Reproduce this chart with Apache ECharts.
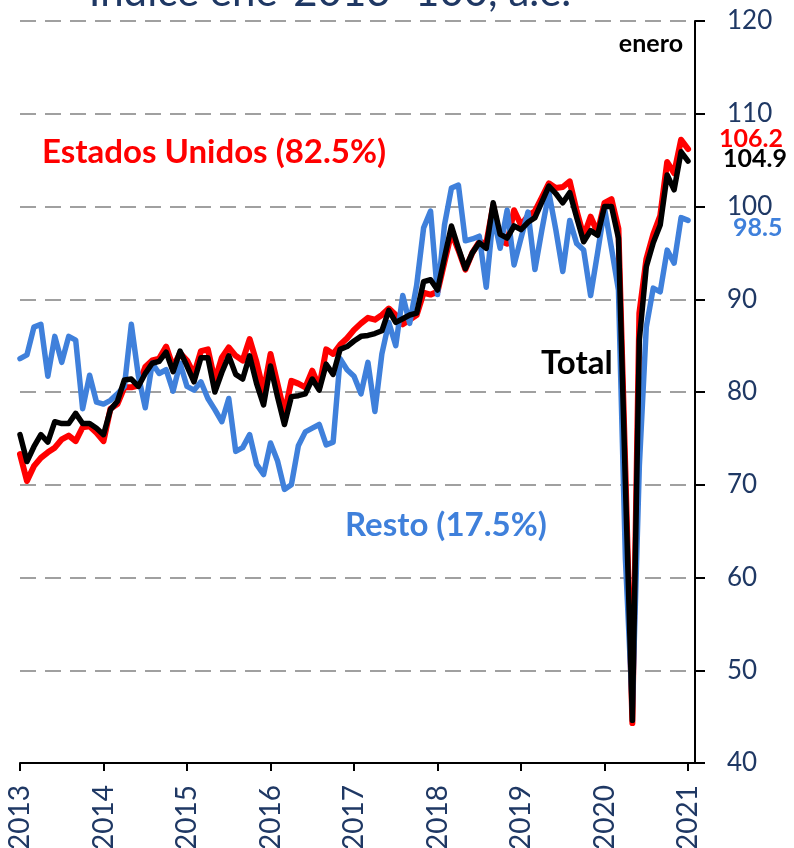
<!DOCTYPE html>
<html>
<head>
<meta charset="utf-8">
<script src="https://cdn.jsdelivr.net/npm/echarts@6/dist/echarts.min.js"></script>
<style>
  html, body { margin: 0; padding: 0; background: #fff; }
  #chart { width: 794px; height: 848px; }
</style>
</head>
<body>
<div id="chart"></div>
<script>
// años del eje x (una etiqueta cada enero)
var years = ['2013', '2014', '2015', '2016', '2017', '2018', '2019', '2020', '2021'];

// índice ene-2013=100, a.e., mensual ene-2013 a ene-2021
var estadosUnidos = [
    73.3, 70.4, 72.0, 72.9, 73.5, 74.0, 74.9, 75.3, 74.7, 76.2, 76.3, 75.6,
    74.7, 78.2, 78.7, 80.5, 80.5, 80.7, 82.7, 83.4, 83.6, 84.9, 82.7, 84.2,
    83.4, 81.9, 84.4, 84.6, 81.2, 83.7, 84.8, 83.9, 83.4, 85.7, 83.2, 80.0,
    84.1, 80.9, 77.7, 81.2, 80.9, 80.5, 82.3, 80.5, 84.6, 84.1, 85.1, 85.8,
    86.7, 87.4, 88.0, 87.8, 88.3, 89.0, 88.3, 87.3, 87.8, 88.3, 90.7, 90.5,
    90.8, 94.0, 97.2, 95.3, 93.2, 95.0, 96.2, 96.0, 100.1, 96.3, 96.0, 99.6,
    98.0, 99.0, 99.5, 101.0, 102.5, 102.0, 102.1, 102.7, 99.5, 96.8, 98.9, 97.2,
    100.4, 100.8, 97.6, 71.5, 44.3, 88.5, 94.3, 97.0, 99.0, 104.8, 103.6, 107.2,
    106.2
];
var resto = [
    83.6, 84.0, 87.0, 87.3, 81.7, 86.0, 83.2, 86.0, 85.6, 78.2, 81.8, 78.9,
    78.7, 79.1, 79.8, 80.6, 87.3, 81.8, 78.3, 83.1, 82.0, 82.4, 80.1, 83.1,
    80.6, 80.2, 81.1, 79.3, 78.1, 76.8, 79.3, 73.6, 74.0, 75.4, 72.2, 71.1,
    74.5, 72.6, 69.5, 70.0, 74.2, 75.7, 76.1, 76.5, 74.3, 74.6, 83.6, 82.4,
    81.7, 79.8, 83.2, 77.9, 84.1, 87.5, 85.0, 90.4, 87.4, 91.5, 97.7, 99.5,
    90.5, 98.0, 102.0, 102.3, 96.3, 96.5, 96.8, 91.3, 99.0, 95.5, 99.6, 93.7,
    96.6, 99.4, 93.2, 97.5, 101.5, 97.5, 93.0, 98.5, 96.0, 95.3, 90.4, 95.0,
    99.8, 95.5, 91.0, 62.0, 46.0, 72.0, 87.0, 91.2, 90.8, 95.3, 93.9, 98.8,
    98.5
];
var total = [
    75.4, 72.5, 74.1, 75.4, 74.6, 76.8, 76.6, 76.6, 77.7, 76.6, 76.6, 76.1,
    75.4, 78.1, 79.0, 81.3, 81.4, 80.6, 82.0, 83.1, 83.3, 84.3, 82.2, 84.4,
    82.8, 81.1, 83.7, 83.7, 80.0, 82.1, 83.9, 81.9, 81.4, 83.9, 80.9, 78.6,
    82.8, 79.5, 76.5, 79.5, 79.6, 79.8, 81.4, 80.2, 83.0, 81.9, 84.6, 84.9,
    85.5, 86.0, 86.1, 86.3, 86.6, 88.8, 87.5, 87.9, 88.3, 88.5, 91.9, 92.1,
    91.0, 94.5, 97.9, 95.5, 93.3, 95.0, 96.1, 95.5, 100.4, 97.0, 96.6, 97.9,
    97.5, 98.3, 98.8, 100.5, 102.2, 101.4, 100.4, 101.5, 98.8, 96.2, 97.4, 96.9,
    100.0, 100.0, 96.6, 70.0, 44.6, 85.6, 93.5, 96.1, 98.0, 103.4, 101.8, 105.9,
    104.9
];

// eje y: 40 a 120 cada 10
var yMin = 40, yMax = 120, yStep = 10;

// categorías mensuales, con un mes vacío al final antes del eje
var meses = [];
for (var i = 0; i < years.length * 12 - 11 + 1; i++) {
    meses.push(i % 12 === 0 ? years[i / 12] : '');
}

var navy = '#1f3864';
var rojo = '#ff0000';
var azul = '#3f80db';

var myChart = echarts.init(document.getElementById('chart'));
var option = {
    animation: false,
    backgroundColor: '#fff',
    grid: { left: 20, right: 99, top: 21, bottom: 85, outerBoundsMode: 'none' },
    xAxis: {
        type: 'category',
        boundaryGap: false,
        data: meses,
        axisLine: { lineStyle: { color: '#000', width: 2 } },
        axisTick: {
            interval: function (idx) { return idx % 12 === 0; },
            length: 8,
            lineStyle: { color: '#000', width: 2 }
        },
        axisLabel: {
            interval: function (idx) { return idx % 12 === 0; },
            rotate: 90,
            margin: 22,
            color: navy,
            fontFamily: 'Lato',
            fontSize: 28
        },
        splitLine: { show: false }
    },
    yAxis: {
        type: 'value',
        position: 'right',
        min: yMin,
        max: yMax,
        interval: yStep,
        axisLine: { show: true, lineStyle: { color: '#000', width: 2 } },
        axisTick: { show: true, length: 10, lineStyle: { color: '#000', width: 2 } },
        axisLabel: {
            margin: 32,
            color: navy,
            fontFamily: 'Lato',
            fontSize: 26
        },
        splitLine: {
            show: true,
            lineStyle: { color: '#a0a0a0', width: 2, type: [16, 9] }
        }
    },
    series: [
        {
            name: 'Estados Unidos', type: 'line', data: estadosUnidos,
            symbol: 'none', z: 2,
            lineStyle: { color: rojo, width: 6, join: 'round', cap: 'round' }
        },
        {
            name: 'Resto', type: 'line', data: resto,
            symbol: 'none', z: 3,
            lineStyle: { color: azul, width: 5.5, join: 'round', cap: 'round' }
        },
        {
            name: 'Total', type: 'line', data: total,
            symbol: 'none', z: 4,
            lineStyle: { color: '#000', width: 5.5, join: 'round', cap: 'round' }
        }
    ],
    graphic: [
        texto('Índice ene-2013=100, a.e.', 330, -8, 'center', '42px Lato', navy),
        texto('enero', 683, 44, 'right', 'bold 25px Lato', '#000'),
        texto('Estados Unidos (82.5%)', 42, 152, 'left', 'bold 33px Lato', rojo),
        texto('Total', 541, 363, 'left', 'bold 33px Lato', '#000'),
        texto('Resto (17.5%)', 345, 525, 'left', 'bold 33px Lato', azul),
        texto('106.2', 719, 139, 'left', 'bold 25px Lato', rojo),
        texto('104.9', 723, 159, 'left', 'bold 25px Lato', '#000'),
        texto('98.5', 733, 228, 'left', 'bold 25px Lato', azul)
    ]
};

// texto suelto sobre el gráfico
function texto(t, x, y, align, font, color) {
    return {
        type: 'text',
        x: x,
        y: y,
        z: 10,
        style: {
            text: t,
            font: font,
            fill: color,
            align: align,
            verticalAlign: 'middle',
            textAlign: align,
            textVerticalAlign: 'middle'
        }
    };
}

myChart.setOption(option);
</script>
</body>
</html>
